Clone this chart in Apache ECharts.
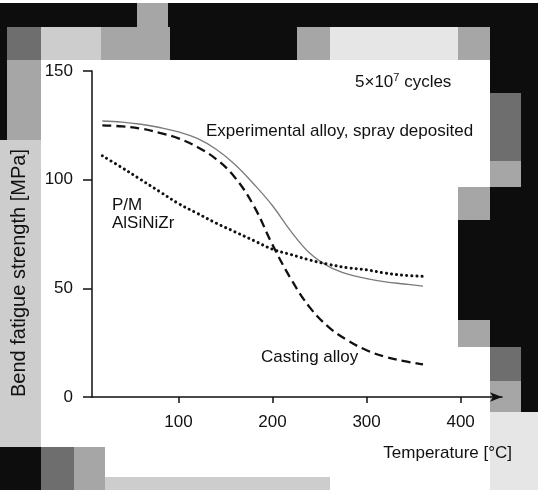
<!DOCTYPE html>
<html>
<head>
<meta charset="utf-8">
<script src="https://cdn.jsdelivr.net/npm/echarts@6/dist/echarts.min.js"></script>
<style>
html,body{margin:0;padding:0;background:#fff;}
#c{width:538px;height:490px;}
</style>
</head>
<body>
<div id="c"></div>
<script>
// Data
const temps = [19, 40, 60, 80, 100, 120, 140, 160, 180, 200, 220, 240, 260, 280, 300, 320, 340, 360];
const experimentalAlloy = [127, 126.5, 125.5, 124, 122, 119, 114, 107, 98, 88, 76, 66, 60, 56.5, 54.5, 53, 52, 51];
const castingAlloy = [125, 124.5, 123.5, 121.5, 119, 115, 109.5, 101, 88, 70, 54, 41, 32, 26, 21.5, 18.5, 16.5, 15];
const pmAlSiNiZr = [111, 105.5, 100, 94.5, 89, 84.5, 80, 76, 72, 68, 65.5, 63, 61, 59.5, 58.5, 57, 56, 55.5];
const xTickValues = [100, 200, 300, 400];
const yTickValues = [0, 50, 100, 150];

const pair = (xs, ys) => xs.map((x, i) => [x, ys[i]]);

const FONT = '"Liberation Sans", Arial, sans-serif';
const BLACK = '#0d0d0d', DARK = '#6e6e6e', MID = '#a6a6a6', LIGHT = '#cdcdcd', PALE = '#e6e6e6';

function tile(x, y, w, h, fill) {
  return { type: 'rect', z: -10, silent: true, shape: { x, y, width: w, height: h }, style: { fill } };
}

const backdrop = [
  // top band
  tile(0, 3, 538, 24, BLACK),
  tile(137, 3, 31, 24, MID),
  // second row
  tile(0, 27, 7, 113, BLACK),
  tile(7, 27, 34, 33, DARK),
  tile(41, 27, 60, 33, LIGHT),
  tile(101, 27, 69, 33, MID),
  tile(170, 27, 127, 33, BLACK),
  tile(297, 27, 33, 33, MID),
  tile(330, 27, 128, 33, PALE),
  tile(458, 27, 32, 33, MID),
  tile(490, 27, 48, 66, BLACK),
  // left column
  tile(7, 60, 34, 80, MID),
  tile(0, 140, 41, 307, LIGHT),
  // right column
  tile(490, 93, 31, 68, DARK),
  tile(521, 93, 17, 94, BLACK),
  tile(490, 161, 31, 26, MID),
  tile(490, 187, 48, 160, BLACK),
  tile(458, 187, 32, 33, MID),
  tile(458, 220, 32, 100, BLACK),
  tile(458, 320, 32, 27, MID),
  tile(490, 347, 31, 34, DARK),
  tile(521, 347, 17, 65, BLACK),
  tile(490, 381, 31, 31, MID),
  tile(490, 412, 48, 78, PALE),
  // bottom
  tile(0, 447, 41, 43, BLACK),
  tile(41, 447, 33, 43, DARK),
  tile(74, 447, 31, 43, MID),
  tile(105, 477, 225, 13, LIGHT)
];

const texts = [
  { type: 'text', z: 10, x: 355, y: 82, style: {
      text: '{a|5×10}{s|7}{a| cycles}', verticalAlign: 'middle',
      rich: { a: { fontFamily: FONT, fontSize: 17, fill: '#111' }, s: { fontFamily: FONT, fontSize: 11, fill: '#111', padding: [0, 0, 9, 0] } } } },
  { type: 'text', z: 10, x: 206, y: 131, style: { text: 'Experimental alloy, spray deposited', font: '17px ' + FONT, fill: '#111', verticalAlign: 'middle' } },
  { type: 'text', z: 10, x: 112, y: 205, style: { text: 'P/M', font: '17px ' + FONT, fill: '#111', verticalAlign: 'middle' } },
  { type: 'text', z: 10, x: 112, y: 223, style: { text: 'AlSiNiZr', font: '17px ' + FONT, fill: '#111', verticalAlign: 'middle' } },
  { type: 'text', z: 10, x: 261, y: 357, style: { text: 'Casting alloy', font: '17px ' + FONT, fill: '#111', verticalAlign: 'middle' } },
  { type: 'text', z: 10, x: 512, y: 453, style: { text: 'Temperature [°C]', font: '17px ' + FONT, fill: '#111', align: 'right', verticalAlign: 'middle' } },
  { type: 'text', z: 10, x: 19, y: 273, rotation: Math.PI / 2, originX: 0, originY: 0,
    style: { text: 'Bend fatigue strength [MPa]', font: '20px ' + FONT, fill: '#111', align: 'center', verticalAlign: 'middle' } }
];

const chart = echarts.init(document.getElementById('c'), null, { renderer: 'canvas' });
chart.setOption({
  animation: false,
  backgroundColor: '#fff',
  grid: { left: 92, right: 36, top: 71, bottom: 93 },
  xAxis: {
    type: 'value', min: 8, max: 444,
    splitLine: { show: false },
    axisLine: { show: true, lineStyle: { color: '#111', width: 1.5 }, symbol: ['none', 'arrow'], symbolSize: [7, 12] },
    axisTick: { show: true, length: 6, customValues: xTickValues, lineStyle: { color: '#111', width: 1.5 } },
    axisLabel: { customValues: xTickValues, margin: 17, fontFamily: FONT, fontSize: 17, color: '#111' }
  },
  yAxis: {
    type: 'value', min: 0, max: 150,
    splitLine: { show: false },
    axisLine: { show: true, lineStyle: { color: '#111', width: 1.5 } },
    axisTick: { show: true, length: 9, customValues: yTickValues, lineStyle: { color: '#111', width: 1.5 } },
    axisLabel: { customValues: yTickValues, margin: 19, fontFamily: FONT, fontSize: 17, color: '#111' }
  },
  graphic: backdrop.concat(texts),
  series: [
    { name: 'Experimental alloy, spray deposited', type: 'line', smooth: 0.4, showSymbol: false,
      data: pair(temps, experimentalAlloy), lineStyle: { color: '#7a7a7a', width: 1.3 } },
    { name: 'Casting alloy', type: 'line', smooth: 0.4, showSymbol: false,
      data: pair(temps, castingAlloy), lineStyle: { color: '#111', width: 2.3, type: [9, 5] } },
    { name: 'P/M AlSiNiZr', type: 'line', smooth: 0.4, showSymbol: false,
      data: pair(temps, pmAlSiNiZr), lineStyle: { color: '#111', width: 3, type: [0.1, 5], cap: 'round' } }
  ]
});
</script>
</body>
</html>
